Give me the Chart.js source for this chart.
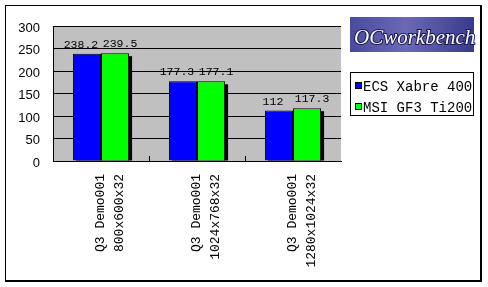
<!DOCTYPE html>
<html>
<head>
<meta charset="utf-8">
<script src="https://cdn.jsdelivr.net/npm/chart.js@4.4.1/dist/chart.umd.min.js"></script>
<style>
  html, body { margin: 0; padding: 0; background: #fff; }
  #wrap { position: relative; width: 488px; height: 287px; }
</style>
</head>
<body>
<div id="wrap"><canvas id="grafico" width="488" height="287"></canvas></div>
<script>
// dados do grafico
const categorias = [
  ["Q3 Demo001", "800x600x32"],
  ["Q3 Demo001", "1024x768x32"],
  ["Q3 Demo001", "1280x1024x32"]
];
const serieNomes = ["ECS Xabre 400", "MSI GF3 Ti200"];
const ecsXabre = [238.2, 177.3, 112];
const msiGf3 = [239.5, 177.1, 117.3];
const eixoY = { min: 0, max: 300, passo: 50 };

// deslocamento horizontal dos rotulos de valor, por serie
const deslocRotulo = [-6, 5];

// fundo, moldura e logo
const moldura = {
  id: "moldura",
  beforeDraw(chart) {
    const ctx = chart.ctx;
    const a = chart.chartArea;
    ctx.save();
    ctx.fillStyle = "#fff";
    ctx.fillRect(0, 0, chart.width, chart.height);
    ctx.fillStyle = "#000";
    ctx.fillRect(5, 5, 477, 1);
    ctx.fillRect(5, 5, 1, 277);
    ctx.fillRect(480, 5, 2, 277);
    ctx.fillRect(5, 280, 477, 2);
    ctx.fillStyle = "#c0c0c0";
    ctx.fillRect(a.left, a.top, a.right - a.left, a.bottom - a.top);
    ctx.restore();
  },
  afterDraw(chart) {
    const ctx = chart.ctx;
    ctx.save();
    // logo
    const g = ctx.createLinearGradient(350, 0, 474, 0);
    g.addColorStop(0, "#4a4a9e");
    g.addColorStop(0.45, "#6c68b8");
    g.addColorStop(1, "#383a8c");
    ctx.fillStyle = g;
    ctx.fillRect(350, 17, 124, 35);
    ctx.font = "italic 21px 'Liberation Serif'";
    ctx.textBaseline = "alphabetic";
    ctx.textAlign = "left";
    ctx.lineWidth = 2;
    ctx.strokeStyle = "#1a1a50";
    ctx.strokeText("OCworkbench", 354, 44);
    ctx.fillStyle = "#fff";
    ctx.fillText("OCworkbench", 354, 44);

    // legenda
    ctx.fillStyle = "#fff";
    ctx.fillRect(350, 72, 123, 43);
    ctx.strokeStyle = "#000";
    ctx.lineWidth = 1;
    ctx.strokeRect(350.5, 72.5, 123, 43);
    ctx.font = "14px 'Liberation Mono'";
    ctx.textBaseline = "middle";
    chart.data.datasets.forEach((ds, i) => {
      const y = 86 + i * 21;
      ctx.fillStyle = ds.backgroundColor;
      ctx.fillRect(355, y - 4, 7, 7);
      ctx.strokeRect(355.5, y - 3.5, 6, 6);
      ctx.fillStyle = "#000";
      ctx.fillText(ds.label, 363, y + 1);
    });
    ctx.restore();
  }
};

// sombra preta das barras
const sombra = {
  id: "sombra",
  beforeDatasetsDraw(chart) {
    const ctx = chart.ctx;
    const a = chart.chartArea;
    ctx.save();
    ctx.beginPath();
    ctx.rect(a.left, a.top, a.right - a.left, a.bottom - a.top);
    ctx.clip();
    ctx.fillStyle = "#000";
    chart.data.datasets.forEach((ds, i) => {
      chart.getDatasetMeta(i).data.forEach(bar => {
        const esq = bar.x - bar.width / 2;
        ctx.fillRect(esq + 3, bar.y + 3, bar.width, bar.base - bar.y - 3);
      });
    });
    ctx.restore();
  },
  afterDatasetsDraw(chart) {
    const ctx = chart.ctx;
    const a = chart.chartArea;
    const x = chart.scales.x;
    ctx.save();
    // marcas das categorias (para dentro)
    ctx.strokeStyle = "#000";
    ctx.lineWidth = 1;
    const larg = (a.right - a.left) / categorias.length;
    for (let i = 1; i < categorias.length; i++) {
      const px = Math.round(x.getPixelForValue(i) - larg / 2) + 0.5;
      ctx.beginPath();
      ctx.moveTo(px, a.bottom - 5);
      ctx.lineTo(px, a.bottom);
      ctx.stroke();
    }
    // rotulos de valores
    ctx.font = "11.5px 'Liberation Mono'";
    ctx.textAlign = "center";
    ctx.textBaseline = "alphabetic";
    ctx.fillStyle = "#000";
    chart.data.datasets.forEach((ds, i) => {
      chart.getDatasetMeta(i).data.forEach((bar, j) => {
        ctx.fillText(String(ds.data[j]), bar.x + deslocRotulo[i], bar.y - 6);
      });
    });
    ctx.restore();
  }
};

new Chart(document.getElementById("grafico"), {
  type: "bar",
  data: {
    labels: categorias,
    datasets: [
      { label: serieNomes[0], data: ecsXabre, backgroundColor: "#0000ff", borderColor: "#000", borderWidth: 1 },
      { label: serieNomes[1], data: msiGf3, backgroundColor: "#00ff00", borderColor: "#000", borderWidth: 1 }
    ]
  },
  options: {
    responsive: false,
    animation: false,
    devicePixelRatio: 1,
    layout: { padding: { top: 26, left: 0, right: 147, bottom: 0 } },
    datasets: { bar: { categoryPercentage: 0.585, barPercentage: 1 } },
    plugins: { legend: { display: false }, tooltip: { enabled: false } },
    scales: {
      x: {
        grid: { display: false, drawTicks: false },
        border: { display: true, color: "#000", width: 1 },
        ticks: {
          minRotation: 90,
          maxRotation: 90,
          padding: 13,
          color: "#000",
          font: { family: "'Liberation Mono'", size: 13, lineHeight: 1.45 }
        },
        afterFit(scale) { scale.height = 126; }
      },
      y: {
        min: eixoY.min,
        max: eixoY.max,
        grid: { color: "#000", drawTicks: false },
        border: { display: true, color: "#000", width: 1 },
        ticks: {
          stepSize: eixoY.passo,
          padding: 13,
          labelOffset: 2,
          color: "#000",
          font: { family: "'Liberation Sans'", size: 13 }
        },
        afterFit(scale) { scale.width = 53; }
      }
    }
  },
  plugins: [moldura, sombra]
});
</script>
</body>
</html>
